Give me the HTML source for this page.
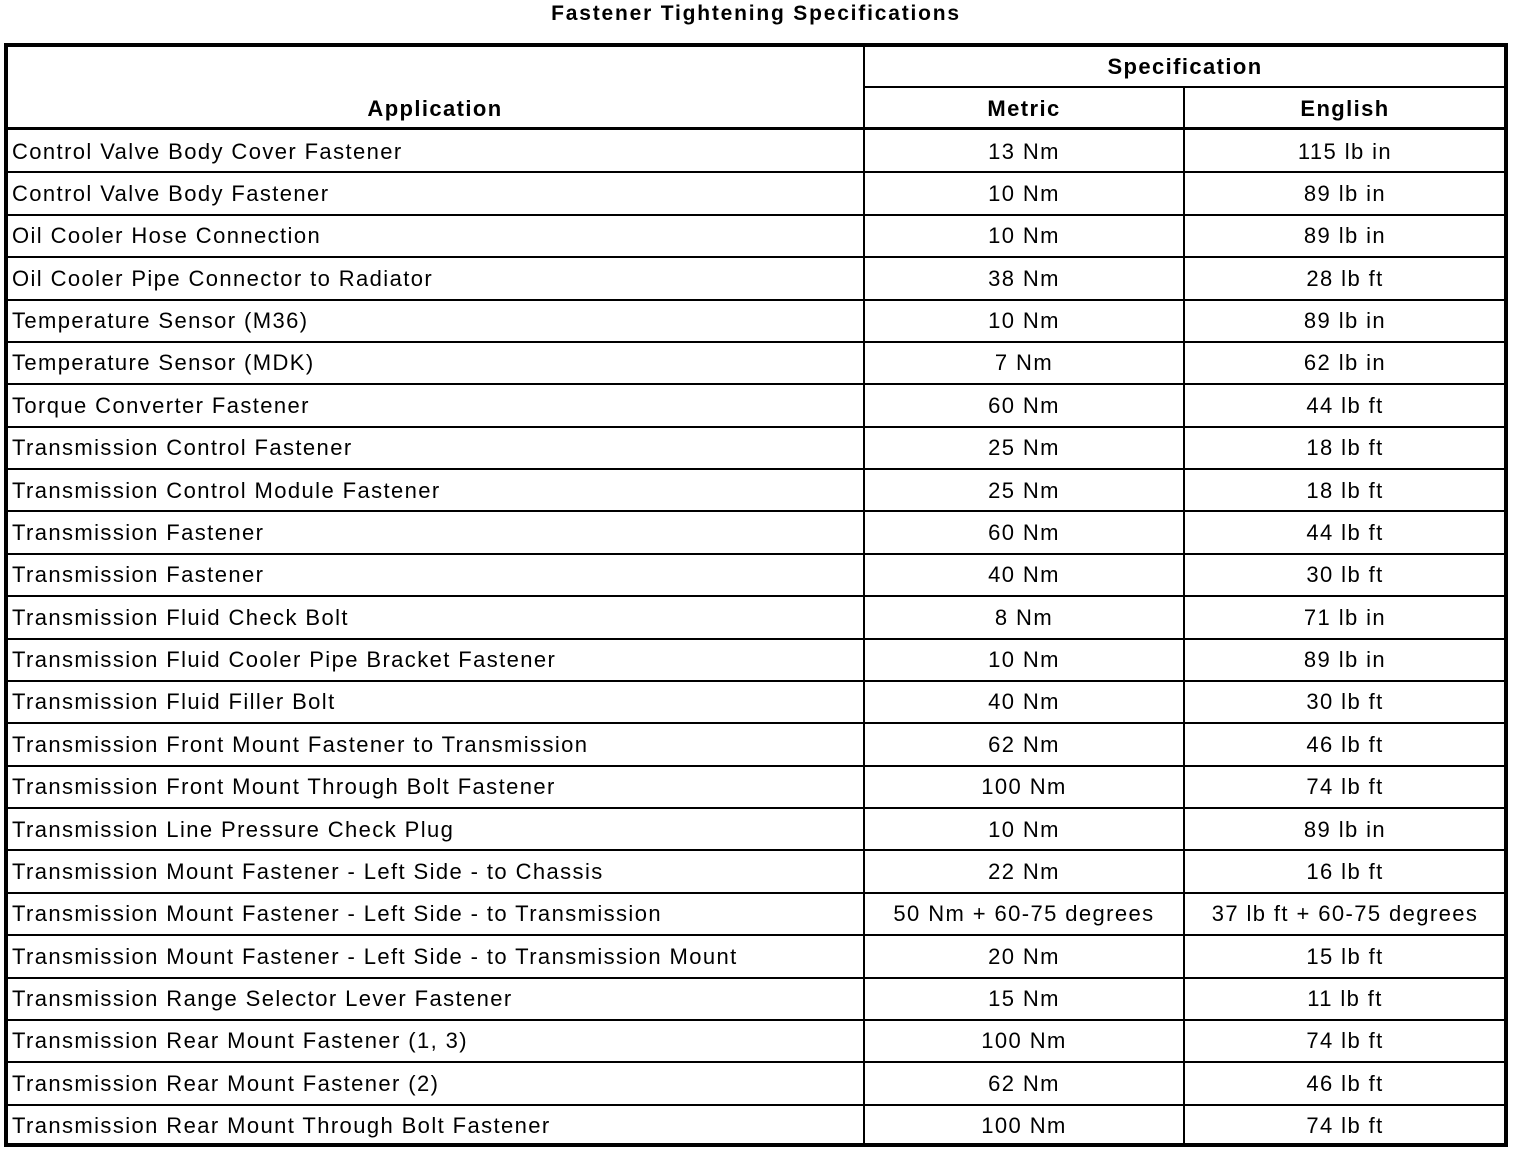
<!DOCTYPE html>
<html><head><meta charset="utf-8"><style>
body{margin:0;width:1520px;height:1154px;background:#fff;position:relative;overflow:hidden;font-family:"Liberation Sans",Arial,sans-serif;color:#000}
.a{position:absolute}
.h{background:#000}
.t{position:absolute;font-size:22px;line-height:42px;white-space:nowrap;letter-spacing:1.4px}
.b{font-weight:bold}
.c{text-align:center}
</style></head><body>
<div class="t b c" style="left:0;width:1512px;top:-7px;font-size:21px;letter-spacing:1.8px">Fastener Tightening Specifications</div>
<div class="a" style="left:4px;top:43px;width:1496px;height:1096px;border:4px solid #000"></div>
<div class="a h" style="left:863px;top:45px;width:2px;height:1100px"></div>
<div class="a h" style="left:1183px;top:86px;width:2px;height:1059px"></div>
<div class="a h" style="left:864px;top:86px;width:642px;height:2px"></div>
<div class="a h" style="left:6px;top:127px;width:1500px;height:3px"></div>
<div class="t b c" style="left:864px;width:642px;top:46px">Specification</div>
<div class="t b c" style="left:6px;width:858px;top:88px">Application</div>
<div class="t b c" style="left:864px;width:320px;top:88px">Metric</div>
<div class="t b c" style="left:1184px;width:322px;top:88px">English</div>
<div id="rows"></div>
<script>
var d=[["Control Valve Body Cover Fastener","13 Nm","115 lb in"],["Control Valve Body Fastener","10 Nm","89 lb in"],["Oil Cooler Hose Connection","10 Nm","89 lb in"],["Oil Cooler Pipe Connector to Radiator","38 Nm","28 lb ft"],["Temperature Sensor (M36)","10 Nm","89 lb in"],["Temperature Sensor (MDK)","7 Nm","62 lb in"],["Torque Converter Fastener","60 Nm","44 lb ft"],["Transmission Control Fastener","25 Nm","18 lb ft"],["Transmission Control Module Fastener","25 Nm","18 lb ft"],["Transmission Fastener","60 Nm","44 lb ft"],["Transmission Fastener","40 Nm","30 lb ft"],["Transmission Fluid Check Bolt","8 Nm","71 lb in"],["Transmission Fluid Cooler Pipe Bracket Fastener","10 Nm","89 lb in"],["Transmission Fluid Filler Bolt","40 Nm","30 lb ft"],["Transmission Front Mount Fastener to Transmission","62 Nm","46 lb ft"],["Transmission Front Mount Through Bolt Fastener","100 Nm","74 lb ft"],["Transmission Line Pressure Check Plug","10 Nm","89 lb in"],["Transmission Mount Fastener - Left Side - to Chassis","22 Nm","16 lb ft"],["Transmission Mount Fastener - Left Side - to Transmission","50 Nm + 60-75 degrees","37 lb ft + 60-75 degrees"],["Transmission Mount Fastener - Left Side - to Transmission Mount","20 Nm","15 lb ft"],["Transmission Range Selector Lever Fastener","15 Nm","11 lb ft"],["Transmission Rear Mount Fastener (1, 3)","100 Nm","74 lb ft"],["Transmission Rear Mount Fastener (2)","62 Nm","46 lb ft"],["Transmission Rear Mount Through Bolt Fastener","100 Nm","74 lb ft"]];
var h="",s=42.375;
for(var i=0;i<d.length;i++){var y=130+i*s;
if(i>0)h+='<div class="a h" style="left:6px;top:'+(y-1).toFixed(0)+'px;width:1500px;height:2px"></div>';
h+='<div class="t" style="left:12px;top:'+(y+0.5).toFixed(1)+'px">'+d[i][0]+'</div>';
h+='<div class="t c" style="left:864px;width:320px;top:'+(y+0.5).toFixed(1)+'px">'+d[i][1]+'</div>';
h+='<div class="t c" style="left:1184px;width:322px;top:'+(y+0.5).toFixed(1)+'px">'+d[i][2]+'</div>';}
document.getElementById("rows").innerHTML=h;
</script>
</body></html>
